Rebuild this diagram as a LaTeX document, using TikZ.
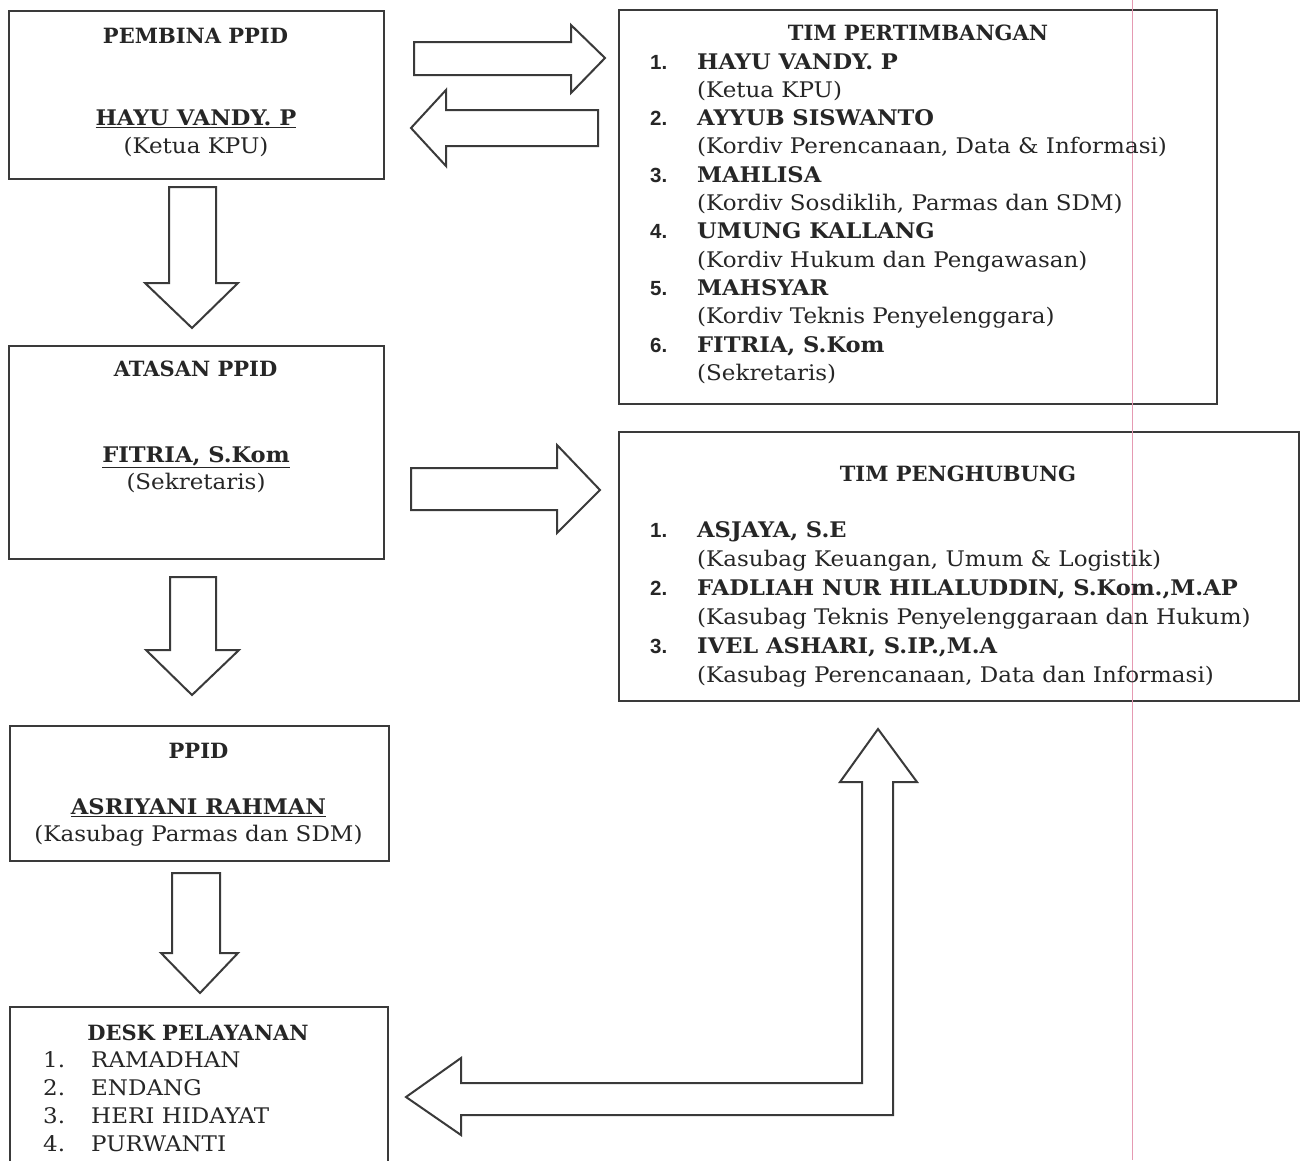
\documentclass[tikz,border=0pt]{standalone}
\usepackage{fontspec}
\setmainfont{DejaVu Serif}
\newfontfamily\regf{DejaVu Serif}[FakeStretch=1.07]
\newfontfamily\namef{DejaVu Serif}[FakeStretch=1.05]
\newfontfamily\numfont{Liberation Sans}
\definecolor{ink}{HTML}{262626}
\definecolor{edge}{HTML}{3A3A3A}
\definecolor{marginline}{HTML}{E59AB2}
\begin{document}
\begin{tikzpicture}[x=1pt,y=-1pt,
  box/.style={draw=edge, line width=2pt, rectangle, anchor=north west, inner sep=0pt},
  barrow/.style={draw=edge, line width=2pt, fill=white, line join=miter},
  txt/.style={text=ink, inner sep=0pt, font=\fontsize{21.5}{24}\regf},
  ttl/.style={txt, anchor=base, font=\fontsize{21}{24}\selectfont\bfseries},
  uname/.style={txt, anchor=base, font=\fontsize{21.5}{24}\namef\bfseries},
  ctr/.style={txt, anchor=base},
  lft/.style={txt, anchor=base west},
  nb/.style={txt, anchor=base west, font=\fontsize{20.5}{24}\numfont\bfseries},
  nm/.style={txt, anchor=base west, font=\fontsize{21.5}{24}\namef\bfseries}
]
\useasboundingbox (0,0) rectangle (1308,1160);
\clip (0,0) rectangle (1308,1160);
\fill[white] (0,0) rectangle (1308,1160);

% boxes
\node[box, minimum width=375pt, minimum height=168pt] (pembina) at (8,10) {};
\node[box, minimum width=375pt, minimum height=213pt] (atasan) at (8,345) {};
\node[box, minimum width=379pt, minimum height=135pt] (ppid) at (9,725) {};
\node[box, minimum width=378pt, minimum height=200pt] (desk) at (9,1006) {};
\node[box, minimum width=598pt, minimum height=394pt] (pertim) at (618,9) {};
\node[box, minimum width=680pt, minimum height=269pt] (penghub) at (618,431) {};

% margin line of the scan
\draw[marginline, line width=1pt] (1132,0) -- (1132,1160);

% block arrows
\draw[barrow] (414,42) -- (571,42) -- (571,25) -- (605,58) -- (571,93) -- (571,75) -- (414,75) -- cycle;
\draw[barrow] (598,110) -- (446,110) -- (446,90) -- (411,128) -- (446,166) -- (446,146) -- (598,146) -- cycle;
\draw[barrow] (169,187) -- (216,187) -- (216,283) -- (238,283) -- (192,328) -- (145,283) -- (169,283) -- cycle;
\draw[barrow] (170,577) -- (216,577) -- (216,650) -- (239,650) -- (192,695) -- (146,650) -- (170,650) -- cycle;
\draw[barrow] (411,468) -- (557,468) -- (557,445) -- (600,490) -- (557,533) -- (557,510) -- (411,510) -- cycle;
\draw[barrow] (172,873) -- (220,873) -- (220,953) -- (238,953) -- (200,993) -- (161,953) -- (172,953) -- cycle;
\draw[barrow] (862,1083) -- (862,782) -- (840,782) -- (878,729) -- (917,782) -- (893,782) -- (893,1115) -- (461,1115) -- (461,1135) -- (406,1097) -- (461,1058) -- (461,1083) -- cycle;

% PEMBINA
\node[ttl] (t1) at (195.5,43) {PEMBINA PPID};
\node[uname] (n1) at (196,125) {\underline{HAYU VANDY. P}};
\node[ctr] (r1) at (196,153) {(Ketua KPU)};
% ATASAN
\node[ttl] (t2) at (195.5,376) {ATASAN PPID};
\node[uname] (n2) at (196,462) {\underline{FITRIA, S.Kom}};
\node[ctr] (r2) at (196,489) {(Sekretaris)};
% PPID
\node[ttl] (t3) at (198.5,758) {PPID};
\node[uname] (n3) at (198.5,814) {\underline{ASRIYANI RAHMAN}};
\node[ctr] (r3) at (198.5,841) {(Kasubag Parmas dan SDM)};
% DESK
\node[ttl] (t4) at (198,1040) {DESK PELAYANAN};
\node[lft] (d1n) at (43,1067) {1.};
\node[lft] (d1) at (91,1067) {RAMADHAN};
\node[lft] (d2n) at (43,1095) {2.};
\node[lft] (d2) at (91,1095) {ENDANG};
\node[lft] (d3n) at (43,1123) {3.};
\node[lft] (d3) at (91,1123) {HERI HIDAYAT};
\node[lft] (d4n) at (43,1151) {4.};
\node[lft] (d4) at (91,1151) {PURWANTI};

% TIM PERTIMBANGAN
\node[ttl] (t5) at (918,40) {TIM PERTIMBANGAN};
\node[nb] (p1n) at (650,69) {1.};
\node[nm] (p1) at (697,69) {HAYU VANDY. P};
\node[lft] (p1r) at (697,97.3) {(Ketua KPU)};
\node[nb] (p2n) at (650,125.6) {2.};
\node[nm] (p2) at (697,125.6) {AYYUB SISWANTO};
\node[lft] (p2r) at (697,153.9) {(Kordiv Perencanaan, Data \& Informasi)};
\node[nb] (p3n) at (650,182.2) {3.};
\node[nm] (p3) at (697,182.2) {MAHLISA};
\node[lft] (p3r) at (697,210.5) {(Kordiv Sosdiklih, Parmas dan SDM)};
\node[nb] (p4n) at (650,238.8) {4.};
\node[nm] (p4) at (697,238.8) {UMUNG KALLANG};
\node[lft] (p4r) at (697,267.1) {(Kordiv Hukum dan Pengawasan)};
\node[nb] (p5n) at (650,295.4) {5.};
\node[nm] (p5) at (697,295.4) {MAHSYAR};
\node[lft] (p5r) at (697,323.7) {(Kordiv Teknis Penyelenggara)};
\node[nb] (p6n) at (650,352) {6.};
\node[nm] (p6) at (697,352) {FITRIA, S.Kom};
\node[lft] (p6r) at (697,380.3) {(Sekretaris)};

% TIM PENGHUBUNG
\node[ttl] (t6) at (958,481) {TIM PENGHUBUNG};
\node[nb] (h1n) at (650,537) {1.};
\node[nm] (h1) at (697,537) {ASJAYA, S.E};
\node[lft] (h1r) at (697,566) {(Kasubag Keuangan, Umum \& Logistik)};
\node[nb] (h2n) at (650,595) {2.};
\node[nm] (h2) at (697,595) {FADLIAH NUR HILALUDDIN, S.Kom.,M.AP};
\node[lft] (h2r) at (697,624) {(Kasubag Teknis Penyelenggaraan dan Hukum)};
\node[nb] (h3n) at (650,653) {3.};
\node[nm] (h3) at (697,653) {IVEL ASHARI, S.IP.,M.A};
\node[lft] (h3r) at (697,682) {(Kasubag Perencanaan, Data dan Informasi)};
\end{tikzpicture}
\end{document}
